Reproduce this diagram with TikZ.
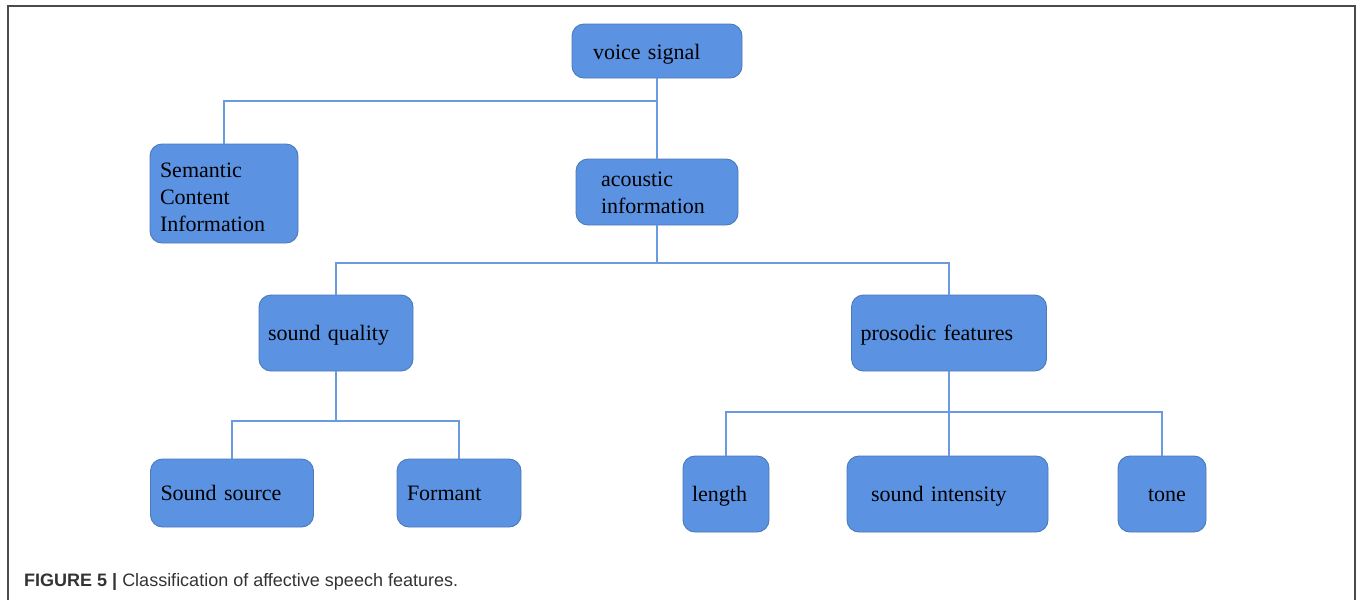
\documentclass[tikz,border=0pt]{standalone}
\usepackage{fontspec}
\setmainfont{Liberation Serif}
\newfontfamily\capfont{Liberation Sans}
\definecolor{boxfill}{HTML}{5B93E2}
\definecolor{boxline}{HTML}{4A7AB8}
\definecolor{linkcol}{HTML}{6A9BE0}
\definecolor{framecol}{HTML}{4A4A4A}
\definecolor{capcol}{HTML}{333333}
\tikzset{
  box/.style={draw=boxline, line width=0.9pt, fill=boxfill, rounded corners=12pt,
    font=\fontsize{22}{27}\selectfont, text=black, align=left, inner ysep=0pt,
    text height=20pt, text depth=5pt},
  link/.style={draw=linkcol, line width=1.3pt},
}
\begin{document}
\begin{tikzpicture}[x=1pt,y=-1pt]
\useasboundingbox (0,0) rectangle (1357,600);
\draw[framecol, line width=1.6pt] (8,600) -- (8,6) -- (1355,6) -- (1355,600);

\node[box, minimum width=170pt, minimum height=54pt, inner xsep=21pt, text width=128pt, text height=22pt] (voice) at (657,51) {voice signal};
\node[box, minimum width=148pt, minimum height=99pt, inner xsep=10pt, text width=128pt, text height=22pt, text depth=54.3pt] (sem) at (224,193.5) {Semantic\\Content\\Information};
\node[box, minimum width=162pt, minimum height=66pt, inner xsep=25pt, text width=112pt, text height=17pt, text depth=27.3pt] (acou) at (657,192) {acoustic\\information};
\node[box, minimum width=154pt, minimum height=76pt, inner xsep=9pt, text width=136pt] (qual) at (336,333) {sound quality};
\node[box, minimum width=195pt, minimum height=76pt, inner xsep=9pt, text width=177pt] (pros) at (949,333) {prosodic features};
\node[box, minimum width=163pt, minimum height=68pt, inner xsep=10pt, text width=143pt] (src) at (232,493) {Sound source};
\node[box, minimum width=124pt, minimum height=68pt, inner xsep=10pt, text width=104pt] (form) at (459,493) {Formant};
\node[box, minimum width=86pt, minimum height=76pt, inner xsep=9pt, text width=68pt] (len) at (726,494) {length};
\node[box, minimum width=201pt, minimum height=76pt, inner xsep=24pt, text width=153pt] (inten) at (947.5,494) {sound intensity};
\node[box, minimum width=88pt, minimum height=76pt, inner xsep=0pt, text width=88pt, align=center] (tone) at (1162,494) {\hspace*{10pt}tone};

\coordinate (j1) at (657,101);
\coordinate (j2) at (657,263);
\coordinate (j3) at (336,421);
\coordinate (j4) at (949,412);

\draw[link] (voice.south) -- (acou.north);
\draw[link] (j1) -| (sem.north);
\draw[link] (acou.south) -- (j2);
\draw[link] (j2) -| (qual.north);
\draw[link] (j2) -| (pros.north);
\draw[link] (qual.south) -- (j3);
\draw[link] (j3) -| (src.north);
\draw[link] (j3) -| (form.north);
\draw[link] (pros.south) -- (pros.south |- inten.north);
\draw[link] (j4) -| (len.north);
\draw[link] (j4) -| (tone.north);

\node[anchor=base west, inner sep=0pt, text=capcol, font=\capfont\fontsize{18}{21}\selectfont] (cap) at (24,586)
  {\textbf{FIGURE 5 |} Classification of affective speech features.};
\end{tikzpicture}
\end{document}
